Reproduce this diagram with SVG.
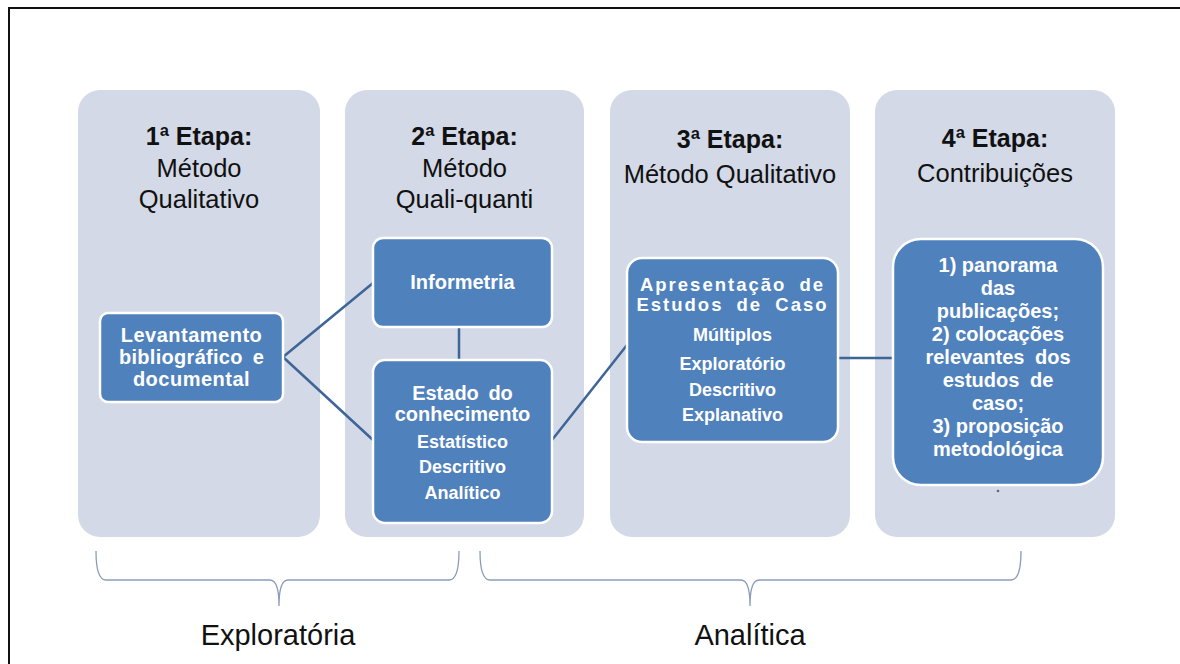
<svg xmlns="http://www.w3.org/2000/svg" width="1180" height="664" viewBox="0 0 1180 664">
<style>
.col{fill:#d3d9e6;}
.box{fill:#4f81bd;stroke:#ffffff;stroke-width:2.5;}
.tb{font-family:"Liberation Sans",Arial,sans-serif;font-weight:bold;font-size:25px;fill:#111;text-anchor:middle;}
.tr{font-family:"Liberation Sans",Arial,sans-serif;font-size:25.5px;fill:#111;text-anchor:middle;}
.w{font-family:"Liberation Sans",Arial,sans-serif;font-weight:bold;fill:#ffffff;text-anchor:middle;}
.h{font-size:20px;}
.h2{font-size:18.5px;}
.s{font-size:18px;}
.con{stroke:#3d6596;stroke-width:2.5;fill:none;}
.brace{stroke:#8a9cba;stroke-width:1.3;fill:none;}
.lbl{font-family:"Liberation Sans",Arial,sans-serif;font-size:29px;fill:#111;text-anchor:middle;}
</style>
<rect x="0" y="0" width="1180" height="664" fill="#ffffff"/>
<path d="M9,664 V8 H1180" stroke="#111" stroke-width="2" fill="none"/>

<g id="col1">
<rect class="col" x="78" y="90" width="242" height="447" rx="22"/>
<text class="tb" x="199" y="145">1ª Etapa:</text>
<text class="tr" x="199" y="177">Método</text>
<text class="tr" x="199" y="208">Qualitativo</text>
</g>
<g id="col2">
<rect class="col" x="345" y="90" width="239" height="447" rx="22"/>
<text class="tb" x="464.5" y="145">2ª Etapa:</text>
<text class="tr" x="464.5" y="177">Método</text>
<text class="tr" x="464.5" y="208">Quali-quanti</text>
</g>
<g id="col3">
<rect class="col" x="610" y="90" width="240" height="447" rx="22"/>
<text class="tb" x="730" y="148">3ª Etapa:</text>
<text class="tr" x="730" y="183">Método Qualitativo</text>
</g>
<g id="col4">
<rect class="col" x="875" y="90" width="240" height="447" rx="22"/>
<text class="tb" x="995" y="147">4ª Etapa:</text>
<text class="tr" x="995" y="182">Contribuições</text>
</g>

<g id="connectors">
<line class="con" x1="283" y1="357" x2="373" y2="283"/>
<line class="con" x1="283" y1="357" x2="373" y2="440"/>
<line class="con" x1="459" y1="327" x2="459" y2="360"/>
<line class="con" x1="552" y1="440" x2="627" y2="345"/>
<line class="con" x1="838" y1="358" x2="893" y2="358" stroke-width="3"/>
</g>

<g id="levantamento">
<rect class="box" x="100" y="313" width="183" height="89" rx="8"/>
<text class="w h" x="191.5" y="342" letter-spacing="0.5">Levantamento</text>
<text class="w h" x="191.5" y="364" letter-spacing="0.3" word-spacing="4">bibliográfico e</text>
<text class="w h" x="191.5" y="386" letter-spacing="0.5">documental</text>
</g>
<g id="informetria">
<rect class="box" x="373" y="238" width="179" height="89" rx="10"/>
<text class="w h" x="462.5" y="289">Informetria</text>
</g>
<g id="estado">
<rect class="box" x="373" y="360" width="179" height="163" rx="12"/>
<text class="w h" x="462.5" y="400" word-spacing="4">Estado do</text>
<text class="w h" x="462.5" y="421">conhecimento</text>
<text class="w s" x="462.5" y="448">Estatístico</text>
<text class="w s" x="462.5" y="473">Descritivo</text>
<text class="w s" x="462.5" y="499">Analítico</text>
</g>
<g id="estudos">
<rect class="box" x="627" y="258" width="211" height="184" rx="15"/>
<text class="w h2" x="732.5" y="291" letter-spacing="2" word-spacing="6">Apresentação de</text>
<text class="w h2" x="732.5" y="311" letter-spacing="2" word-spacing="6">Estudos de Caso</text>
<text class="w s" x="732.5" y="341">Múltiplos</text>
<text class="w s" x="732.5" y="370">Exploratório</text>
<text class="w s" x="732.5" y="396">Descritivo</text>
<text class="w s" x="732.5" y="421">Explanativo</text>
</g>
<g id="contribuicoes">
<rect class="box" x="893" y="239" width="210" height="246" rx="28"/>
<text class="w h" x="998" y="272">1) panorama</text>
<text class="w h" x="998" y="295">das</text>
<text class="w h" x="998" y="318">publicações;</text>
<text class="w h" x="998" y="341">2) colocações</text>
<text class="w h" x="998" y="364" word-spacing="5">relevantes dos</text>
<text class="w h" x="998" y="387" word-spacing="5">estudos de</text>
<text class="w h" x="998" y="410">caso;</text>
<text class="w h" x="998" y="433">3) proposição</text>
<text class="w h" x="998" y="456">metodológica</text>
<circle cx="998" cy="491" r="1.3" fill="#666"/>
</g>

<g id="exploratoria">
<path class="brace" d="M96,551 Q96,580 106,580 H270 Q279,580 279,606 Q279,580 288,580 H449 Q459,580 459,551"/>
<text class="lbl" x="278" y="645">Exploratória</text>
</g>
<g id="analitica">
<path class="brace" d="M480,551 Q480,580 490,580 H741 Q750,580 750,606 Q750,580 759,580 H1011 Q1021,580 1021,551"/>
<text class="lbl" x="750" y="645">Analítica</text>
</g>
</svg>
